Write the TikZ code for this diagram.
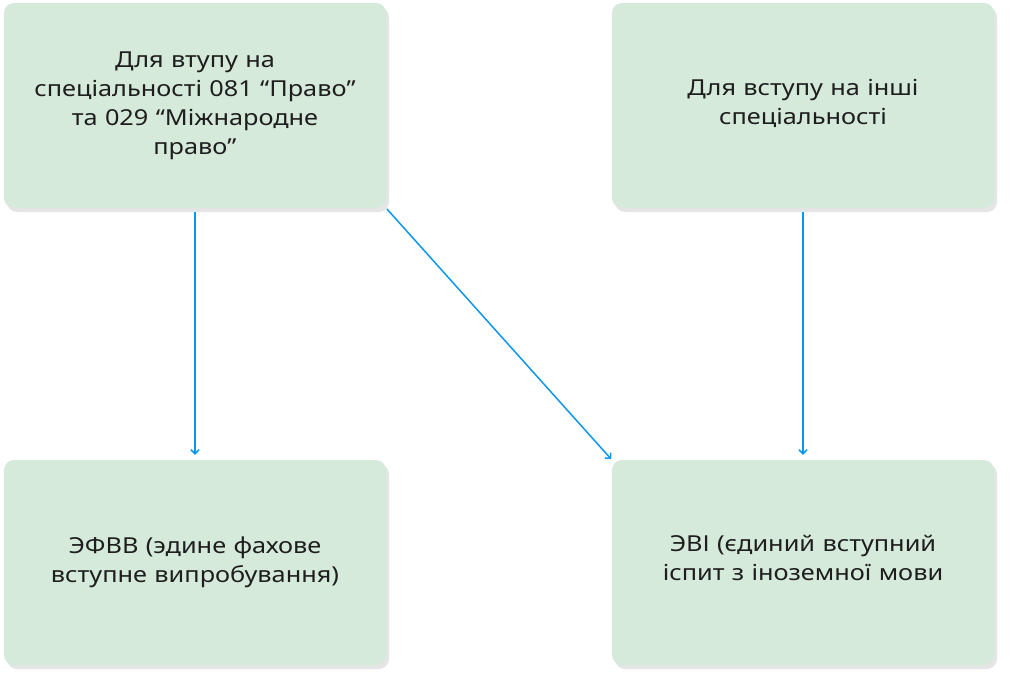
\documentclass[tikz,border=0pt]{standalone}
\usepackage{fontspec}
\setmainfont[FakeStretch=1.15]{Noto Sans}
\usepackage{xcolor}
\definecolor{boxgreen}{RGB}{214,234,219}
\definecolor{arrowblue}{RGB}{12,150,240}
\definecolor{ink}{RGB}{30,30,30}
\usetikzlibrary{calc,positioning,matrix,arrows.meta,shadows}
\tikzset{
  stage/.style={rectangle, fill=boxgreen, rounded corners=10pt, text=ink, text width=350pt, align=center,
    minimum width=382pt, minimum height=205pt, inner sep=0pt,
    font=\fontsize{22}{29}\selectfont,
    drop shadow={shadow xshift=3pt, shadow yshift=-4pt, fill=black, opacity=0.10}},
  line/.style={draw=arrowblue, line width=1.5pt, -{Straight Barb[length=4pt,width=8pt]}, shorten >=5pt, shorten <=4pt},
}
\begin{document}
\begin{tikzpicture}[x=1pt,y=-1pt]
    \useasboundingbox (0,0) rectangle (1011,680);
    \matrix[row sep=252pt,column sep=226pt] at (499,334) {
      \node[stage] (law) {Для втупу на\\ спеціальності 081 “Право”\\ та 029 “Міжнародне\\ право”}; &
      \node[stage] (other) {Для вступу на інші\\ спеціальності\\[-21pt]\mbox{}}; \\
      \node[stage] (efvv) {ЭФВВ (эдине фахове\\ вступне випробування)}; &
      \node[stage] (evi) {ЭВІ (єдиний вступний\\ іспит з іноземної мови\\[-19pt]\mbox{}}; \\
    };

    \begin{scope} [every path/.style=line]
      \path (law) -- (efvv);
      \path (other) -- (evi);
      \path[shorten >=1pt, shorten <=1pt] (law.south east) -- (evi.north west);
    \end{scope}
\end{tikzpicture}
\end{document}
